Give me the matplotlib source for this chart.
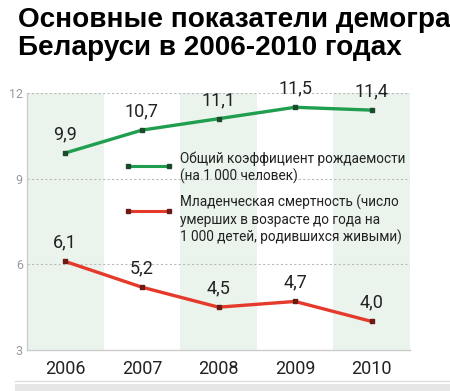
import matplotlib.pyplot as plt
from matplotlib.patches import Rectangle
from matplotlib.lines import Line2D

# === DATA ===
years = ["2006", "2007", "2008", "2009", "2010"]
birth_rate = [9.9, 10.7, 11.1, 11.5, 11.4]
infant_mortality = [6.1, 5.2, 4.5, 4.7, 4.0]
birth_labels = ["9,9", "10,7", "11,1", "11,5", "11,4"]
mort_labels = ["6,1", "5,2", "4,5", "4,7", "4,0"]
y_ticks = [3, 6, 9, 12]

title = "Основные показатели демогра\nБеларуси в 2006-2010 годах"
legend_birth = "Общий коэффициент рождаемости\n(на 1 000 человек)"
legend_mort = ("Младенческая смертность (число\nумерших в возрасте до года на\n"
               "1 000 детей, родившихся живыми)")

green = "#1f9e4f"
red = "#e53a2b"

plt.rcParams['font.family'] = ['Roboto', 'Liberation Sans', 'DejaVu Sans']

fig = plt.figure(figsize=(4.5, 3.91), dpi=100)
W, H = 450, 391
ax = fig.add_axes([27 / W, 1 - 350 / H, 383 / W, 257 / H])

x = list(range(len(years)))
for i in x:
    if i % 2 == 0:
        ax.axvspan(i - 0.5, i + 0.5, color="#eaf4ec", zorder=0, lw=0)

for t in y_ticks[1:]:
    ax.axhline(t, color="#bbbbbb", lw=0.8, ls=(0, (2, 2)), zorder=1)

ax.plot(x, birth_rate, color=green, lw=2.4, zorder=3)
ax.plot(x, infant_mortality, color=red, lw=2.4, zorder=3)
ax.scatter(x, birth_rate, s=6, marker="s", color="#1c4a2a", zorder=4)
ax.scatter(x, infant_mortality, s=6, marker="s", color="#6b1b16", zorder=4)

for i in x:
    ax.annotate(birth_labels[i], (i, birth_rate[i]), xytext=(0, 7),
                textcoords="offset points", ha="center", va="bottom",
                fontsize=13, color="#222222")
    ax.annotate(mort_labels[i], (i, infant_mortality[i]), xytext=(0, 7),
                textcoords="offset points", ha="center", va="bottom",
                fontsize=13, color="#222222")

ax.set_xlim(-0.5, 4.5)
ax.set_ylim(3, 12)
ax.set_xticks(x)
ax.set_xticklabels(years, fontsize=13, color="#222222")
ax.set_yticks(y_ticks)
ax.set_yticklabels([str(t) for t in y_ticks], fontsize=9, color="#999999")
ax.tick_params(axis="x", length=0, pad=7)
ax.tick_params(axis="y", length=0, pad=3)
for s in ["top", "right"]:
    ax.spines[s].set_visible(False)
for s in ["left", "bottom"]:
    ax.spines[s].set_color("#cccccc")
    ax.spines[s].set_linewidth(1)

# legend (drawn manually)
for yy, c, mc in [(166, green, "#1c4a2a"), (211, red, "#6b1b16")]:
    fig.add_artist(Line2D([128 / W, 169 / W], [1 - yy / H] * 2, color=c, lw=2.2,
                          marker="s", markersize=3.5, markerfacecolor=mc,
                          markeredgecolor=mc))
fig.text(180 / W, 1 - 168 / H, legend_birth, fontsize=9.8, color="#222222",
         va="center", linespacing=1.25)
fig.text(180 / W, 1 - 220 / H, legend_mort, fontsize=9.8, color="#222222",
         va="center", linespacing=1.25)

fig.text(18 / W, 1 - 34 / H, title, fontsize=20.1, fontweight="bold",
         family=['Liberation Sans', 'DejaVu Sans'], va="center", linespacing=1.08)

# bottom rule and band
fig.add_artist(Line2D([15 / W, 1], [1 - 381 / H] * 2, color="#dddddd", lw=1))
fig.add_artist(Rectangle((15 / W, 0), 1, 7 / H, color="#e6e6e6", lw=0))

fig.savefig("out.png", dpi=100)
